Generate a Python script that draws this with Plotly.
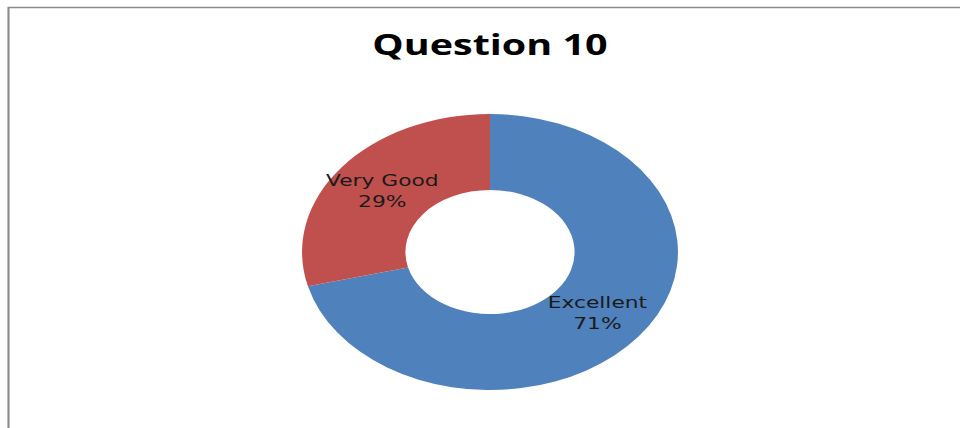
import plotly.graph_objects as go

labels = ["Excellent", "Very Good"]
values = [71, 29]
colors = ["#4F81BD", "#C0504D"]
title_text = "Question 10"

W, H = 960, 428
stretch = 1.362          # horizontal stretch of the whole reference picture
origin_x = 490           # stretch origin (pie / title centre)
cy_px = 252
ry = 138


def unstretch(x):
    return origin_x + (x - origin_x) / stretch


fig = go.Figure(go.Pie(
    labels=labels,
    values=values,
    hole=0.45,
    sort=False,
    direction="clockwise",
    rotation=0,
    marker=dict(colors=colors, line=dict(width=0)),
    textinfo="label+percent",
    textposition="inside",
    insidetextorientation="horizontal",
    textfont=dict(family="DejaVu Sans", size=16, color="#1a1a1a"),
    showlegend=False,
    hoverinfo="none",
    domain=dict(
        x=[(origin_x - ry) / W, (origin_x + ry) / W],
        y=[(H - cy_px - ry) / H, (H - cy_px + ry) / H],
    ),
))

fig.update_layout(
    width=W, height=H,
    margin=dict(l=0, r=0, t=0, b=0),
    paper_bgcolor="white",
    uniformtext=dict(minsize=16, mode="show"),
    title=dict(
        text="<b>%s</b>" % title_text,
        x=origin_x / W, xanchor="center",
        y=1 - 45 / H, yanchor="middle",
        font=dict(family="Open Sans", size=29, color="black"),
    ),
    shapes=[dict(
        type="rect", xref="paper", yref="paper",
        x0=unstretch(8.5) / W, x1=1.2, y0=-0.05, y1=1 - 7.5 / H,
        line=dict(color="#8c8c8c", width=1.6),
    )],
)

post = """
document.documentElement.style.overflow = 'hidden';
document.body.style.margin = '0';
document.body.style.overflow = 'hidden';
var gd = document.getElementById('{plot_id}');
gd.style.transformOrigin = '%fpx 0px';
gd.style.transform = 'scaleX(%f)';
var layer = gd.querySelector('.pielayer');
var surfs = layer.querySelectorAll('path.surface');
var minx = Infinity, maxx = -Infinity, miny = Infinity, maxy = -Infinity;
surfs.forEach(function(p) {
  var b = p.getBBox();
  minx = Math.min(minx, b.x); maxx = Math.max(maxx, b.x + b.width);
  miny = Math.min(miny, b.y); maxy = Math.max(maxy, b.y + b.height);
});
var cx = (minx + maxx) / 2, cy = (miny + maxy) / 2;
var R = (maxy - miny) / 2;
var hole = gd._fullData[0].hole;
var vals = gd.data[0].values;
var tot = vals.reduce(function(a, b) { return a + b; }, 0);
var rmid = R * (1 + hole) / 2;
var cum = 0;
layer.querySelectorAll('g.slice').forEach(function(s, k) {
  var frac = (cum + vals[k] / 2) / tot;
  cum += vals[k];
  var th = frac * 2 * Math.PI;
  var tx = cx + Math.sin(th) * rmid, ty = cy - Math.cos(th) * rmid;
  var g = s.querySelector('g.slicetext');
  if (!g) return;
  var b = g.getBBox();
  var dx = tx - (b.x + b.width / 2), dy = ty - (b.y + b.height / 2);
  g.setAttribute('transform', 'translate(' + dx + ',' + dy + ')');
});
""" % (origin_x, stretch)

fig.write_html("out.html", post_script=post, config=dict(displayModeBar=False))
